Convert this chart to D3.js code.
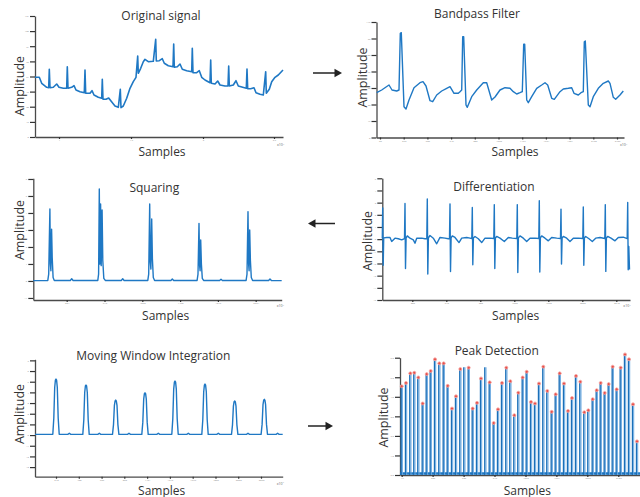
<!DOCTYPE html>
<html lang="en">
<head>
<meta charset="UTF-8" />
<title>QRS detection steps</title>
<script src="https://d3js.org/d3.v7.min.js"></script>
<style>
  body { margin: 0; background: #fff; }
  svg text { font-family: "Open Sans", "Noto Sans", sans-serif; fill: #333; }
</style>
</head>
<body>
<div id="chart"></div>
<script>
// ---- data: [sample, amplitude] ----
const originalSignal = [[0,59.7],[4.3,59.7],[6.7,53.7],[11.7,49.7],[13.7,49.3],[14.3,67.7],[15,49.3],[18.3,49.7],[21.7,53],[24,49.7],[28.3,48.7],[31.7,48.7],[32.3,70.3],[33,48.7],[36.7,49.7],[39,51.3],[41,47],[45,45.3],[49.3,44.3],[50,67],[50.7,43.7],[55,43.7],[57,46.3],[59,42],[63.3,39.7],[66.7,38.7],[67.3,57.7],[68,37.7],[71,37.7],[73.7,39],[76,36],[80,31],[83.3,29.7],[85.3,47.7],[86,29.3],[88.3,31],[91.7,38.7],[95,48.7],[98.3,55.3],[101,59.7],[102.7,81],[103.3,63.7],[105.7,68.7],[108.3,75.3],[110,77.7],[113.3,75.3],[118.3,75.7],[120.7,97.7],[121.3,76],[124.3,76.3],[127.3,78.3],[129.3,73.7],[133.3,71.3],[138,70.3],[138.7,93],[139.3,69.7],[142.3,70.3],[145,73],[147.3,67.7],[151.7,66.3],[156.7,65.3],[157.3,88.7],[158,64.3],[161.7,64.3],[164.3,66.3],[166.7,59.7],[170,57],[175,54.3],[175.7,77],[176.3,53.7],[180,53],[182.7,56],[185,52],[190,51],[193,51],[193.7,71],[194.3,51],[198.3,52],[201,56.3],[203.3,51],[207.7,49.7],[211.3,48.7],[212,68],[212.7,48.3],[215.7,48.3],[219,49.3],[221,44.3],[225,42.7],[228.3,42],[230.7,65.3],[231.3,43.7],[234.3,47.7],[236.7,55.3],[240,59.7],[243.3,62],[248,67]];

const bandpassSignal = [[0.2,44.8],[5.2,47.5],[12.5,52.5],[15.5,47.5],[20.2,46.5],[22.5,47.5],[23.8,104.2],[24.8,104.8],[27.5,30.8],[29.5,28.5],[32.5,37.5],[37.5,49.8],[43.5,54.8],[46.5,55.8],[49.5,51.5],[53.5,36.8],[56.2,35.8],[60.2,42.5],[65.2,46.5],[70.2,49.2],[73.5,50.8],[77.5,44.2],[81.8,44.2],[83.5,45.8],[85.2,47.5],[86.2,100.8],[87.2,100.8],[89.5,32.5],[90.8,30.2],[95.2,40.8],[100.2,47.5],[106.8,54.8],[110.2,54.8],[115.2,37.5],[118.5,40.5],[123.5,47.5],[128.5,49.8],[133.5,49.2],[136.8,45.8],[140.2,43.5],[143.5,44.8],[145.8,45.8],[147.2,93.2],[148.2,93.2],[150.2,37.5],[151.8,34.8],[155.2,40.8],[160.2,49.2],[165.2,52.5],[168.5,54.8],[171.2,52.5],[175.2,39.2],[177.8,38.2],[183.5,45.8],[186.8,48.5],[191.8,49.2],[195.2,49.8],[197.5,44.2],[201.8,42.5],[204.5,44.8],[206.8,45.8],[207.8,95.8],[208.8,96.5],[211.8,32.5],[213.5,30.8],[216.8,40.8],[221.8,49.2],[226.8,54.2],[231.8,56.5],[233.5,54.2],[236.8,40.2],[239.2,38.2],[243.5,42.5],[246.8,46.5]];

const squaredSignal = [[0,0.02],[14.5,0.03],[15.4,0.4],[16.6,4.24],[17.1,1.0],[17.6,0.6],[18.3,3.04],[18.9,1.4],[19.8,0.2],[21,0.03],[37,0.03],[38.4,0.13],[39.8,0.03],[64.5,0.03],[65.3,0.4],[66,5.41],[66.6,1.0],[67.3,4.53],[67.9,0.9],[68.8,4.18],[69.5,1.2],[70.5,0.15],[72,0.03],[88,0.03],[89.4,0.13],[90.8,0.03],[114.5,0.03],[115.4,0.4],[116.4,4.53],[117,1.1],[117.6,0.7],[118.4,3.65],[119.1,1.3],[120,0.2],[121.3,0.03],[137.6,0.03],[139,0.12],[140.4,0.03],[163.8,0.03],[164.7,0.4],[165.7,3.39],[166.3,0.9],[166.8,0.6],[167.4,2.41],[168.1,1.0],[169,0.15],[170.3,0.03],[186.3,0.03],[187.7,0.1],[189.1,0.03],[212.8,0.03],[213.7,0.4],[214.7,4.08],[215.3,1.0],[215.8,0.6],[216.4,3.0],[217.1,1.2],[218,0.2],[219.3,0.03],[235.3,0.03],[236.7,0.12],[238.1,0.03],[248.4,0.02]];

const diffSignal = [[0,0.05],[0.4,2.57],[0.9,-2.15],[1.4,0.1],[4.4,0.14],[7.7,0.14],[9.4,-0.19],[12.7,0.08],[16,0.03],[19.4,-0.06],[22.2,0.05],[22.7,2.93],[23.2,-2.42],[23.8,0.1],[25,0.27],[27.7,0.08],[31,-0.06],[32.7,-0.33],[34.4,0.08],[39.4,0.08],[42.7,0.03],[44.5,0.05],[45,3.3],[45.5,-2.87],[46.1,0.1],[47.7,0.3],[51,0.08],[54.4,-0.38],[57.7,0.14],[62.7,0.08],[66,0.03],[67.2,0.05],[67.7,2.9],[68.2,-2.66],[68.8,0.1],[70,0.27],[72.7,0.14],[76.7,-0.28],[79.4,0.08],[84.4,0.14],[87.7,0.08],[89.5,0.05],[90,2.6],[90.5,-2.11],[91.1,0.1],[92.7,0.22],[96,0.03],[99.4,-0.28],[102.7,0.08],[107.7,0.08],[111.5,0.05],[112,2.84],[112.5,-2.42],[113.1,0.1],[114.4,0.22],[117.7,0.08],[122,-0.19],[126,0.14],[130,0.08],[134.5,0.05],[135,2.84],[135.5,-2.74],[136.1,0.1],[137.7,0.27],[141,0.08],[144.4,-0.19],[147.7,0.08],[152.7,0.08],[156.5,0.05],[157,3.16],[157.5,-2.7],[158.1,0.1],[159.4,0.27],[162.7,0.08],[166,-0.14],[169.4,0.14],[174.4,0.08],[178.2,0.05],[178.7,2.47],[179.2,-2.05],[179.8,0.1],[181,0.22],[184.4,0.08],[187.7,-0.19],[191,0.08],[196,0.08],[200.5,0.05],[201,2.65],[201.5,-2.14],[202.1,0.1],[203.4,0.22],[206.7,0.03],[210,-0.19],[213.4,0.08],[217.7,0.14],[222.5,0.05],[223,2.84],[223.5,-2.65],[224.1,0.1],[225.4,0.22],[228.7,0.08],[232.7,-0.14],[236,0.14],[241,0.16],[244.9,0.05],[245.4,3.02],[245.9,-2.52],[246.5,-0.6],[247.2,-2.5]];

const integratedSignal = [[0,0.07],[17.8,0.07],[18.8,1.58],[19.7,4.46],[20.4,5.15],[21,5.25],[21.6,5.15],[22.3,4.46],[23.2,1.58],[24.2,0.07],[32.8,0.07],[34.3,0.17],[35.8,0.07],[47.8,0.07],[48.8,1.41],[49.7,3.99],[50.4,4.6],[51,4.69],[51.6,4.6],[52.3,3.99],[53.2,1.41],[54.2,0.07],[62.8,0.07],[64.3,0.17],[65.8,0.07],[77.5,0.07],[78.5,0.98],[79.4,2.79],[80.1,3.21],[80.7,3.28],[81.3,3.21],[82,2.79],[82.9,0.98],[83.9,0.07],[92.5,0.07],[94,0.17],[95.5,0.07],[106.8,0.07],[107.8,1.19],[108.7,3.37],[109.4,3.88],[110,3.96],[110.6,3.88],[111.3,3.37],[112.2,1.19],[113.2,0.07],[121.8,0.07],[123.3,0.17],[124.8,0.07],[136.8,0.07],[137.8,1.52],[138.7,4.3],[139.4,4.96],[140,5.06],[140.6,4.96],[141.3,4.3],[142.2,1.52],[143.2,0.07],[151.8,0.07],[153.3,0.17],[154.8,0.07],[166.8,0.07],[167.8,1.43],[168.7,4.06],[169.4,4.68],[170,4.78],[170.6,4.68],[171.3,4.06],[172.2,1.43],[173.2,0.07],[181.8,0.07],[183.3,0.17],[184.8,0.07],[196.5,0.07],[197.5,0.96],[198.4,2.71],[199.1,3.13],[199.7,3.19],[200.3,3.13],[201,2.71],[201.9,0.96],[202.9,0.07],[211.5,0.07],[213,0.17],[214.5,0.07],[226.1,0.07],[227.1,1.0],[228,2.85],[228.7,3.28],[229.3,3.35],[229.9,3.28],[230.6,2.85],[231.5,1.0],[232.5,0.07],[241.1,0.07],[242.6,0.17],[244.1,0.07],[247.7,0.07]];

const peakSamples = [1.7,6,10.3,14.3,18.3,22.7,26.7,30.7,35,39.3,43.7,47.7,52,56,60.3,64.3,68.7,72.7,77,81,85.3,89.7,93.7,98,102,106.3,110.3,114.3,118.3,122.7,126.7,131,135,139,143.3,147.3,151.7,155.7,159.7,164,168,172,176,180.3,184.3,188.3,192.7,196.7,200.7,204.7,208.7,212.7,216.7,220.7,225,229,233,237];
const peakAmplitudes = [4.54,4.71,5.20,5.23,4.99,3.66,5.16,5.32,5.92,5.71,5.71,4.56,3.40,4.03,5.42,5.51,5.49,3.40,3.69,4.94,5.51,4.74,2.66,3.36,4.71,5.49,4.80,3.06,4.21,4.99,5.28,3.74,3.66,4.68,5.54,4.30,3.23,4.13,5.20,4.68,3.28,3.94,5.07,4.77,3.21,3.31,3.88,4.34,4.71,4.20,4.65,5.54,4.38,5.49,6.17,5.92,3.62,1.72];
const peakMarked = peakSamples.map((d, i) => i !== 15 && i !== 20);
const detectionBaseline = [[0,0.08],[240,0.08]];

// tick values and labels (labels are tiny in the source)
const origXTicks = [24, 96, 168, 239], origXLabels = ["1", "1.5", "2", "2.5"];
const origYTicks = [0, 15.1, 30.3, 45.4, 60.5, 75.6, 90.8, 105.9, 121];
const bandXTicks = [3.5, 27.2, 50.9, 74.6, 98.3, 122, 145.7, 169.4, 193.1, 216.8, 240.5];
const bandYTicks = [0, 16.5, 33, 49.5, 66, 82.5, 99, 115.5];
const sqXTicks = [33.4, 71.2, 109, 146.8, 184.6, 222.4];
const sqYTicks = [-1, 0, 1, 2, 3, 4, 5, 6];
const diffXTicks = [30, 64, 98, 132, 166, 200, 234];
const diffYTicks = [-5, -4, -3, -2, -1, 0, 1, 2, 3, 4, 5];
const mwiXTicks = [21, 43.8, 66.6, 89.3, 112.1, 134.9, 157.7, 180.5, 203.2, 226];
const mwiYTicks = [-3, -2, -1, 0, 1, 2, 3, 4, 5, 6, 7];
const peakXTicks = [1.7, 32.6, 63.6, 94.5, 125.5, 156.4, 187.3, 218.3];
const peakYTicks = [0, 1, 2, 3, 4, 5, 6];

const blue = "#1f78c4";

var svg = d3.select("#chart").append("svg").attr("width", 640).attr("height", 497);

var panels = [
  { title: "Original signal", data: originalSignal, left: 35, right: 283, top: 16, bottom: 137,
    xDomain: [0, 248], yDomain: [0, 121], xTicks: origXTicks, yTicks: origYTicks, xLabels: origXLabels,
    titleAt: [161, 20], samplesAt: [162, 156], ampAt: [23.5, 86], expAt: [277, 146], lw: 1.6 },
  { title: "Bandpass Filter", data: bandpassSignal, left: 376.5, right: 624, top: 22, bottom: 137.5,
    xDomain: [0, 247.5], yDomain: [0, 115.5], xTicks: bandXTicks, yTicks: bandYTicks,
    titleAt: [477, 18], samplesAt: [515, 156], ampAt: [367, 77.5], expAt: [620, 146], lw: 1.4 },
  { title: "Squaring", data: squaredSignal, left: 33.3, right: 281.7, top: 178.3, bottom: 300,
    xDomain: [0, 248.4], yDomain: [-1.12, 6.04], xTicks: sqXTicks, yTicks: sqYTicks,
    titleAt: [154.3, 191.5], samplesAt: [165.7, 319.5], ampAt: [24, 230], expAt: [276.7, 306.7], lw: 1.4 },
  { title: "Differentiation", data: diffSignal, left: 382.3, right: 630, top: 178.3, bottom: 300,
    xDomain: [0, 247.7], yDomain: [-5, 5], xTicks: diffXTicks, yTicks: diffYTicks,
    titleAt: [494, 191], samplesAt: [515.7, 319.5], ampAt: [372, 241], expAt: [623.3, 306.7], lw: 1.4 },
  { title: "Moving Window Integration", data: integratedSignal, left: 35, right: 282.7, top: 359.3, bottom: 476.7,
    xDomain: [0, 247.7], yDomain: [-3.9, 7.1], xTicks: mwiXTicks, yTicks: mwiYTicks,
    titleAt: [153.3, 359.5], samplesAt: [161.7, 494.5], ampAt: [24, 414], expAt: [276.7, 484.5], lw: 1.4 },
  { title: "Peak Detection", data: null, left: 400, right: 640, top: 357.7, bottom: 475,
    xDomain: [0, 240], yDomain: [0, 6], xTicks: peakXTicks, yTicks: peakYTicks,
    titleAt: [496.7, 354.8], samplesAt: [527.3, 494.5], ampAt: [387.5, 417.5], expAt: null, lw: 1.4 }
];

panels.forEach(function (p) {
  var x = d3.scaleLinear().domain(p.xDomain).range([p.left, p.right]);
  var y = d3.scaleLinear().domain(p.yDomain).range([p.bottom, p.top]);
  var g = svg.append("g");

  g.append("g")
    .attr("transform", "translate(" + p.left + ",0)")
    .call(d3.axisLeft(y).tickValues(p.yTicks).tickSizeInner(5).tickSizeOuter(0).tickPadding(1));
  g.append("g")
    .attr("transform", "translate(0," + p.bottom + ")")
    .call(d3.axisBottom(x).tickValues(p.xTicks).tickSizeInner(2).tickSizeOuter(0).tickPadding(0.5)
      .tickFormat(function (d, i) { return p.xLabels ? p.xLabels[i] : d3.format(".0f")(d * 10); }));
  g.selectAll(".domain").attr("stroke", "#4a4a4a").attr("stroke-width", 1.3);
  g.selectAll(".tick line").attr("stroke", "#333").attr("stroke-width", 1.2);
  g.selectAll(".tick text").attr("font-size", 2.5).style("fill", "#888");

  var line = d3.line().x(d => x(d[0])).y(d => y(d[1]));

  if (p.data) {
    g.append("path")
      .datum(p.data)
      .attr("d", line)
      .attr("fill", "none")
      .attr("stroke", blue)
      .attr("stroke-width", p.lw)
      .attr("stroke-linejoin", "round");
  } else {
    // peak detection: stems + red markers
    g.append("path")
      .datum(detectionBaseline)
      .attr("d", line)
      .attr("stroke", blue)
      .attr("stroke-width", 2.6);
    g.selectAll(".stemDark")
      .data(peakSamples)
      .enter()
      .append("rect")
      .attr("x", d => x(d) - 1.2)
      .attr("y", (d, i) => y(peakAmplitudes[i]))
      .attr("width", 1.4)
      .attr("height", (d, i) => y(0) - y(peakAmplitudes[i]))
      .attr("fill", "#1a6fb8");
    g.selectAll(".stemLight")
      .data(peakSamples)
      .enter()
      .append("rect")
      .attr("x", d => x(d) + 0.2)
      .attr("y", (d, i) => y(peakAmplitudes[i]))
      .attr("width", 1)
      .attr("height", (d, i) => y(0) - y(peakAmplitudes[i]))
      .attr("fill", "#6aa8e0");
    g.selectAll(".peakDot")
      .data(peakSamples.filter((d, i) => peakMarked[i]))
      .enter()
      .append("circle")
      .attr("cx", d => x(d))
      .attr("cy", d => y(peakAmplitudes[peakSamples.indexOf(d)]))
      .attr("r", 1.5)
      .attr("fill", "#e8504a")
      .attr("stroke", "#f5a8a4")
      .attr("stroke-width", 0.8);
  }

  g.append("text")
    .attr("x", p.titleAt[0]).attr("y", p.titleAt[1])
    .attr("text-anchor", "middle").attr("font-size", 12)
    .text(p.title);
  g.append("text")
    .attr("x", p.samplesAt[0]).attr("y", p.samplesAt[1])
    .attr("text-anchor", "middle").attr("font-size", 12)
    .text("Samples");
  g.append("text")
    .attr("transform", "translate(" + p.ampAt[0] + "," + p.ampAt[1] + ") rotate(-90)")
    .attr("text-anchor", "middle").attr("font-size", 12.5)
    .text("Amplitude");
  if (p.expAt) {
    var t = g.append("text")
      .attr("x", p.expAt[0]).attr("y", p.expAt[1])
      .attr("font-size", 3.5).style("fill", "#666");
    t.append("tspan").text("x10");
    t.append("tspan").attr("dy", -1.2).attr("font-size", 2.5).text("4");
  }
});

// arrows between the steps
function arrow(x1, x2, yy) {
  var dir = x2 > x1 ? 1 : -1;
  svg.append("line")
    .attr("x1", x1).attr("y1", yy)
    .attr("x2", x2 - dir * 6).attr("y2", yy)
    .attr("stroke", "#222").attr("stroke-width", 1.5);
  svg.append("path")
    .attr("d", "M" + x2 + "," + yy + "L" + (x2 - dir * 7.5) + "," + (yy - 4.2) +
      "L" + (x2 - dir * 7.5) + "," + (yy + 4.2) + "Z")
    .attr("fill", "#222");
}
arrow(313, 342, 73);
arrow(335, 308, 223.5);
arrow(308, 333, 426);
</script>
</body>
</html>
